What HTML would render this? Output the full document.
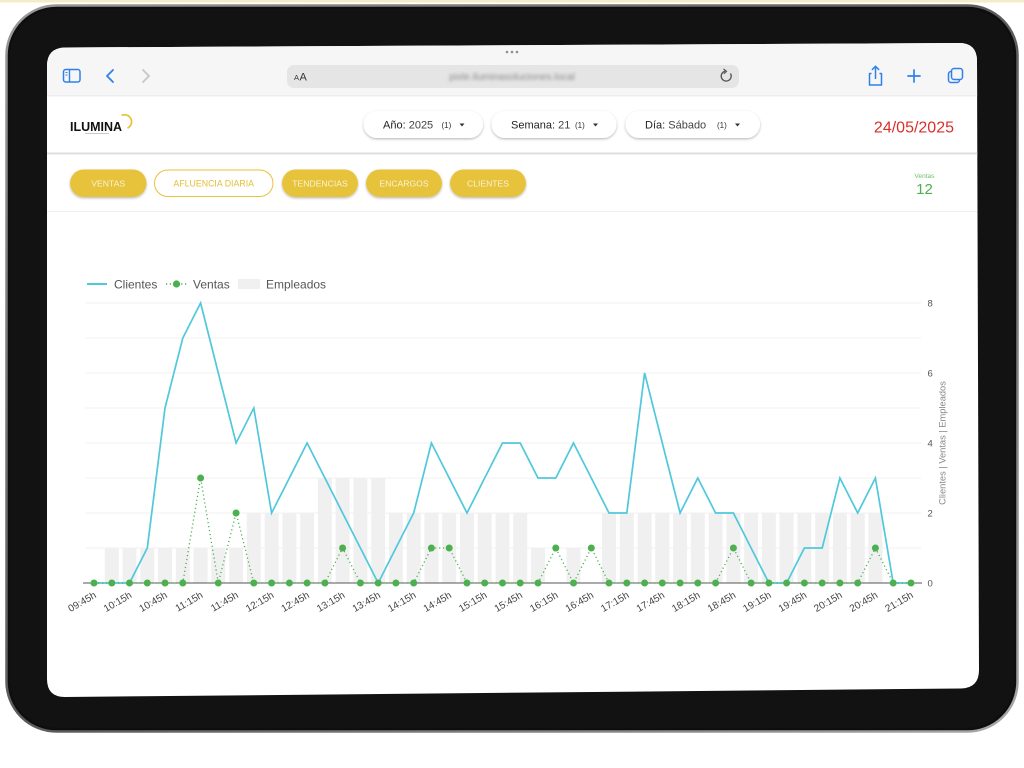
<!DOCTYPE html>
<html>
<head>
<meta charset="utf-8">
<style>
html,body{margin:0;padding:0;background:#fff;width:1024px;height:768px;overflow:hidden;}
svg{display:block;font-family:"Liberation Sans",Arial,sans-serif;}
</style>
</head>
<body>
<svg width="1024" height="768" viewBox="0 0 1024 768" xmlns="http://www.w3.org/2000/svg">
<defs>
  <clipPath id="scr">
    <path d="M47,66 Q47,48 65,47.5 L959,43 Q977,43 977,61 L979,670 Q979,688 961,688.5 L65,697 Q47,697 47,679 Z"/>
  </clipPath>
  <filter id="sh" x="-10%" y="-30%" width="120%" height="180%">
    <feDropShadow dx="0" dy="1.2" stdDeviation="1.2" flood-color="#000" flood-opacity="0.28"/>
  </filter>
  <filter id="blur"><feGaussianBlur stdDeviation="1.6"/></filter>
  <linearGradient id="rim" x1="0" y1="0" x2="1" y2="1">
    <stop offset="0" stop-color="#9a9a9a"/>
    <stop offset="0.5" stop-color="#5a5a5a"/>
    <stop offset="1" stop-color="#a8a8a8"/>
  </linearGradient>
</defs>

<!-- background -->
<rect x="0" y="0" width="1024" height="768" fill="#ffffff"/>
<rect x="0" y="0" width="1024" height="2.5" fill="#f4ecc4"/>

<!-- iPad body -->
<rect x="6.5" y="5.5" width="1011" height="726" rx="50" ry="50" fill="#0e0e0e" stroke="url(#rim)" stroke-width="2.5"/>
<rect x="10" y="9" width="1004" height="719" rx="47" ry="47" fill="#121212"/>

<!-- screen -->
<g clip-path="url(#scr)">
  <rect x="40" y="40" width="945" height="660" fill="#ffffff"/>
  <!-- browser chrome -->
  <rect x="40" y="40" width="945" height="56" fill="#f6f6f6"/>
  <rect x="40" y="95.5" width="945" height="0.8" fill="#e4e4e4"/>
  <circle cx="507" cy="52" r="1.3" fill="#8e8e8e"/>
  <circle cx="512" cy="52" r="1.3" fill="#8e8e8e"/>
  <circle cx="517" cy="52" r="1.3" fill="#8e8e8e"/>
  <!-- sidebar icon -->
  <rect x="63.5" y="69.5" width="16.5" height="12.5" rx="2.2" fill="none" stroke="#2f80ed" stroke-width="1.5"/>
  <line x1="69.5" y1="69.5" x2="69.5" y2="82" stroke="#2f80ed" stroke-width="1.4"/>
  <line x1="65.5" y1="72.5" x2="67.5" y2="72.5" stroke="#2f80ed" stroke-width="1"/>
  <line x1="65.5" y1="75" x2="67.5" y2="75" stroke="#2f80ed" stroke-width="1"/>
  <!-- back/forward -->
  <path d="M113,70 L107,76 L113,82" fill="none" stroke="#2f80ed" stroke-width="1.8" stroke-linecap="round" stroke-linejoin="round"/>
  <path d="M143,70 L149,76 L143,82" fill="none" stroke="#c6c6c6" stroke-width="1.8" stroke-linecap="round" stroke-linejoin="round"/>
  <!-- address bar -->
  <rect x="287" y="65" width="452" height="23" rx="7" fill="#e5e5e5"/>
  <text x="294" y="80" font-size="7.5" fill="#333">A</text>
  <text x="299.5" y="80.5" font-size="11" fill="#333">A</text>
  <text x="512" y="80" font-size="10" fill="#8a8a8a" text-anchor="middle" filter="url(#blur)">pixle.iluminasoluciones.local</text>
  <path d="M730.5,73.5 A5,5 0 1 1 725,71.2" fill="none" stroke="#555" stroke-width="1.3"/>
  <path d="M723.5,69 L726.5,71.3 L723.8,73.8" fill="none" stroke="#555" stroke-width="1.2"/>
  <!-- share -->
  <path d="M871.5,73.5 L869.5,73.5 L869.5,85 L881.5,85 L881.5,73.5 L879.5,73.5" fill="none" stroke="#2f80ed" stroke-width="1.5" stroke-linejoin="round"/>
  <line x1="875.5" y1="66.5" x2="875.5" y2="79" stroke="#2f80ed" stroke-width="1.5"/>
  <path d="M872.3,69.5 L875.5,66.3 L878.7,69.5" fill="none" stroke="#2f80ed" stroke-width="1.5" stroke-linecap="round"/>
  <!-- plus -->
  <line x1="908" y1="76" x2="920" y2="76" stroke="#2f80ed" stroke-width="1.7" stroke-linecap="round"/>
  <line x1="914" y1="70" x2="914" y2="82" stroke="#2f80ed" stroke-width="1.7" stroke-linecap="round"/>
  <!-- tabs -->
  <rect x="948.5" y="71.5" width="11" height="11" rx="2.5" fill="none" stroke="#2f80ed" stroke-width="1.5"/>
  <rect x="951.5" y="68.5" width="11" height="11" rx="2.5" fill="#f6f6f6" stroke="#2f80ed" stroke-width="1.5"/>

  <!-- page header -->
  <text x="70" y="131" font-size="12.5" font-weight="bold" fill="#111">ILUMINA</text>
  <path d="M121.6,115.4 A7,7 0 1 1 127.5,128.1" fill="none" stroke="#e7c23b" stroke-width="1.8"/>
  <rect x="85" y="133" width="24" height="1" fill="#c8c8c8"/>

  <g filter="url(#sh)">
    <rect x="363.5" y="111" width="119.5" height="27" rx="13.5" fill="#fff"/>
    <rect x="491.5" y="111" width="125" height="27" rx="13.5" fill="#fff"/>
    <rect x="625.5" y="111" width="134.5" height="27" rx="13.5" fill="#fff"/>
  </g>
  <text x="383" y="128.5" font-size="11" fill="#222">Año<tspan fill="#222">:</tspan> <tspan fill="#444">2025</tspan></text>
  <text x="441.5" y="128" font-size="8" fill="#333">(1)</text>
  <path d="M459.5,123.5 L464.5,123.5 L462,126.5 Z" fill="#333"/>
  <text x="511" y="128.5" font-size="11" fill="#222">Semana<tspan>:</tspan> <tspan fill="#444">21</tspan></text>
  <text x="575" y="128" font-size="8" fill="#333">(1)</text>
  <path d="M593,123.5 L598,123.5 L595.5,126.5 Z" fill="#333"/>
  <text x="645" y="128.5" font-size="11" fill="#222">Día<tspan>:</tspan> <tspan fill="#444">Sábado</tspan></text>
  <text x="717" y="128" font-size="8" fill="#333">(1)</text>
  <path d="M735,123.5 L740,123.5 L737.5,126.5 Z" fill="#333"/>

  <text x="954" y="132.5" font-size="16" fill="#d7302c" text-anchor="end">24/05/2025</text>

  <rect x="40" y="152.5" width="945" height="1.5" fill="#dedede"/>
  <rect x="40" y="154" width="945" height="1" fill="#f0f0f0"/>

  <!-- nav buttons -->
  <g filter="url(#sh)">
    <rect x="70" y="169.5" width="76.5" height="27.5" rx="13.75" fill="#e7c23b"/>
    <rect x="282" y="169.5" width="76" height="27.5" rx="13.75" fill="#e7c23b"/>
    <rect x="366" y="169.5" width="76" height="27.5" rx="13.75" fill="#e7c23b"/>
    <rect x="450" y="169.5" width="76" height="27.5" rx="13.75" fill="#e7c23b"/>
  </g>
  <rect x="154.5" y="170" width="118.5" height="26.5" rx="13.25" fill="#fff" stroke="#e7c23b" stroke-width="1"/>
  <text x="108.2" y="186.5" font-size="8.6" fill="#fbf3d6" text-anchor="middle">VENTAS</text>
  <text x="213.7" y="186.5" font-size="8.8" fill="#e4be35" text-anchor="middle">AFLUENCIA DIARIA</text>
  <text x="320" y="186.5" font-size="8.6" fill="#fbf3d6" text-anchor="middle">TENDENCIAS</text>
  <text x="404" y="186.5" font-size="8.6" fill="#fbf3d6" text-anchor="middle">ENCARGOS</text>
  <text x="488" y="186.5" font-size="8.6" fill="#fbf3d6" text-anchor="middle">CLIENTES</text>

  <text x="924.5" y="178" font-size="6.5" fill="#6cbf6c" text-anchor="middle">Ventas</text>
  <text x="924.5" y="194" font-size="15" fill="#4caf50" text-anchor="middle">12</text>

  <rect x="40" y="211" width="945" height="1" fill="#eeeeee"/>

  <!-- legend -->
  <line x1="87" y1="284" x2="107" y2="284" stroke="#50c8dc" stroke-width="2"/>
  <text x="114" y="288.3" font-size="12" fill="#555">Clientes</text>
  <line x1="166" y1="284" x2="187" y2="284" stroke="#4caf50" stroke-width="1.4" stroke-dasharray="1.2 2.6"/>
  <circle cx="176.5" cy="284" r="3.6" fill="#4caf50"/>
  <text x="193" y="288.3" font-size="12" fill="#555">Ventas</text>
  <rect x="238" y="279" width="22" height="10" fill="#f0f0f0"/>
  <text x="266" y="288.3" font-size="12" fill="#555">Empleados</text>

  <!-- gridlines -->
  <g stroke="#f1f1f1" stroke-width="1">
    <line x1="85" y1="303" x2="921" y2="303"/>
    <line x1="85" y1="338" x2="921" y2="338"/>
    <line x1="85" y1="373" x2="921" y2="373"/>
    <line x1="85" y1="408" x2="921" y2="408"/>
    <line x1="85" y1="443" x2="921" y2="443"/>
    <line x1="85" y1="478" x2="921" y2="478"/>
    <line x1="85" y1="513" x2="921" y2="513"/>
    <line x1="85" y1="548" x2="921" y2="548"/>
  </g>

  <!-- Empleados bars -->
  <g fill="#f0f0f0">
    <rect x="104.8" y="548" width="14" height="35"/>
    <rect x="122.5" y="548" width="14" height="35"/>
    <rect x="140.3" y="548" width="14" height="35"/>
    <rect x="158" y="548" width="14" height="35"/>
    <rect x="175.8" y="548" width="14" height="35"/>
    <rect x="193.6" y="548" width="14" height="35"/>
    <rect x="211.3" y="548" width="14" height="35"/>
    <rect x="229.1" y="548" width="14" height="35"/>
    <rect x="246.8" y="513" width="14" height="70"/>
    <rect x="264.6" y="513" width="14" height="70"/>
    <rect x="282.4" y="513" width="14" height="70"/>
    <rect x="300.1" y="513" width="14" height="70"/>
    <rect x="317.9" y="478" width="14" height="105"/>
    <rect x="335.6" y="478" width="14" height="105"/>
    <rect x="353.4" y="478" width="14" height="105"/>
    <rect x="371.2" y="478" width="14" height="105"/>
    <rect x="388.9" y="513" width="14" height="70"/>
    <rect x="406.7" y="513" width="14" height="70"/>
    <rect x="424.4" y="513" width="14" height="70"/>
    <rect x="442.2" y="513" width="14" height="70"/>
    <rect x="460" y="513" width="14" height="70"/>
    <rect x="477.7" y="513" width="14" height="70"/>
    <rect x="495.5" y="513" width="14" height="70"/>
    <rect x="513.2" y="513" width="14" height="70"/>
    <rect x="531" y="548" width="14" height="35"/>
    <rect x="566.5" y="548" width="14" height="35"/>
    <rect x="602" y="513" width="14" height="70"/>
    <rect x="619.8" y="513" width="14" height="70"/>
    <rect x="637.6" y="513" width="14" height="70"/>
    <rect x="655.3" y="513" width="14" height="70"/>
    <rect x="673.1" y="513" width="14" height="70"/>
    <rect x="690.8" y="513" width="14" height="70"/>
    <rect x="708.6" y="513" width="14" height="70"/>
    <rect x="726.4" y="513" width="14" height="70"/>
    <rect x="744.1" y="513" width="14" height="70"/>
    <rect x="761.9" y="513" width="14" height="70"/>
    <rect x="779.6" y="513" width="14" height="70"/>
    <rect x="797.4" y="513" width="14" height="70"/>
    <rect x="815.2" y="513" width="14" height="70"/>
    <rect x="832.9" y="513" width="14" height="70"/>
    <rect x="850.7" y="513" width="14" height="70"/>
    <rect x="868.4" y="513" width="14" height="70"/>
  </g>

  <!-- zero axis -->
  <line x1="83" y1="583" x2="922" y2="583" stroke="#555" stroke-width="1.1"/>

  <!-- Clientes line -->
  <polyline fill="none" stroke="#50c8dc" stroke-width="1.7" stroke-linejoin="miter" points="94,583 111.8,583 129.5,583 147.3,548 165,408 182.8,338 200.6,303 218.3,373 236.1,443 253.8,408 271.6,513 289.4,478 307.1,443 324.9,478 342.6,513 360.4,548 378.2,583 395.9,548 413.7,513 431.4,443 449.2,478 467,513 484.7,478 502.5,443 520.2,443 538,478 555.8,478 573.5,443 591.3,478 609,513 626.8,513 644.6,373 662.3,443 680.1,513 697.8,478 715.6,513 733.4,513 751.1,548 768.9,583 786.6,583 804.4,548 822.2,548 839.9,478 857.7,513 875.4,478 893.2,583 911,583"/>

  <!-- Ventas dotted line -->
  <polyline fill="none" stroke="#4caf50" stroke-width="1.3" stroke-dasharray="1.2 2.8" points="94,583 111.8,583 129.5,583 147.3,583 165,583 182.8,583 200.6,478 218.3,583 236.1,513 253.8,583 271.6,583 289.4,583 307.1,583 324.9,583 342.6,548 360.4,583 378.2,583 395.9,583 413.7,583 431.4,548 449.2,548 467,583 484.7,583 502.5,583 520.2,583 538,583 555.8,548 573.5,583 591.3,548 609,583 626.8,583 644.6,583 662.3,583 680.1,583 697.8,583 715.6,583 733.4,548 751.1,583 768.9,583 786.6,583 804.4,583 822.2,583 839.9,583 857.7,583 875.4,548 893.2,583 911,583"/>

  <!-- Ventas dots -->
  <g fill="#4caf50">
    <circle cx="94" cy="583" r="3.5"/>
    <circle cx="111.8" cy="583" r="3.5"/>
    <circle cx="129.5" cy="583" r="3.5"/>
    <circle cx="147.3" cy="583" r="3.5"/>
    <circle cx="165" cy="583" r="3.5"/>
    <circle cx="182.8" cy="583" r="3.5"/>
    <circle cx="200.6" cy="478" r="3.5"/>
    <circle cx="218.3" cy="583" r="3.5"/>
    <circle cx="236.1" cy="513" r="3.5"/>
    <circle cx="253.8" cy="583" r="3.5"/>
    <circle cx="271.6" cy="583" r="3.5"/>
    <circle cx="289.4" cy="583" r="3.5"/>
    <circle cx="307.1" cy="583" r="3.5"/>
    <circle cx="324.9" cy="583" r="3.5"/>
    <circle cx="342.6" cy="548" r="3.5"/>
    <circle cx="360.4" cy="583" r="3.5"/>
    <circle cx="378.2" cy="583" r="3.5"/>
    <circle cx="395.9" cy="583" r="3.5"/>
    <circle cx="413.7" cy="583" r="3.5"/>
    <circle cx="431.4" cy="548" r="3.5"/>
    <circle cx="449.2" cy="548" r="3.5"/>
    <circle cx="467" cy="583" r="3.5"/>
    <circle cx="484.7" cy="583" r="3.5"/>
    <circle cx="502.5" cy="583" r="3.5"/>
    <circle cx="520.2" cy="583" r="3.5"/>
    <circle cx="538" cy="583" r="3.5"/>
    <circle cx="555.8" cy="548" r="3.5"/>
    <circle cx="573.5" cy="583" r="3.5"/>
    <circle cx="591.3" cy="548" r="3.5"/>
    <circle cx="609" cy="583" r="3.5"/>
    <circle cx="626.8" cy="583" r="3.5"/>
    <circle cx="644.6" cy="583" r="3.5"/>
    <circle cx="662.3" cy="583" r="3.5"/>
    <circle cx="680.1" cy="583" r="3.5"/>
    <circle cx="697.8" cy="583" r="3.5"/>
    <circle cx="715.6" cy="583" r="3.5"/>
    <circle cx="733.4" cy="548" r="3.5"/>
    <circle cx="751.1" cy="583" r="3.5"/>
    <circle cx="768.9" cy="583" r="3.5"/>
    <circle cx="786.6" cy="583" r="3.5"/>
    <circle cx="804.4" cy="583" r="3.5"/>
    <circle cx="822.2" cy="583" r="3.5"/>
    <circle cx="839.9" cy="583" r="3.5"/>
    <circle cx="857.7" cy="583" r="3.5"/>
    <circle cx="875.4" cy="548" r="3.5"/>
    <circle cx="893.2" cy="583" r="3.5"/>
    <circle cx="911" cy="583" r="3.5"/>
  </g>

  <!-- right axis -->
  <g font-size="9.5" fill="#555">
    <text x="927.5" y="306.5">8</text>
    <text x="927.5" y="376.5">6</text>
    <text x="927.5" y="446.5">4</text>
    <text x="927.5" y="516.5">2</text>
    <text x="927.5" y="586.5">0</text>
  </g>
  <text transform="translate(945.5,443) rotate(-90)" font-size="9.3" fill="#888" text-anchor="middle">Clientes | Ventas | Empleados</text>

  <!-- x labels -->
  <g font-size="10" fill="#444" text-anchor="end">
    <text transform="translate(97,597) rotate(-30)">09:45h</text>
    <text transform="translate(132.5,597) rotate(-30)">10:15h</text>
    <text transform="translate(168,597) rotate(-30)">10:45h</text>
    <text transform="translate(203.6,597) rotate(-30)">11:15h</text>
    <text transform="translate(239.1,597) rotate(-30)">11:45h</text>
    <text transform="translate(274.6,597) rotate(-30)">12:15h</text>
    <text transform="translate(310.1,597) rotate(-30)">12:45h</text>
    <text transform="translate(345.6,597) rotate(-30)">13:15h</text>
    <text transform="translate(381.2,597) rotate(-30)">13:45h</text>
    <text transform="translate(416.7,597) rotate(-30)">14:15h</text>
    <text transform="translate(452.2,597) rotate(-30)">14:45h</text>
    <text transform="translate(487.7,597) rotate(-30)">15:15h</text>
    <text transform="translate(523.2,597) rotate(-30)">15:45h</text>
    <text transform="translate(558.8,597) rotate(-30)">16:15h</text>
    <text transform="translate(594.3,597) rotate(-30)">16:45h</text>
    <text transform="translate(629.8,597) rotate(-30)">17:15h</text>
    <text transform="translate(665.3,597) rotate(-30)">17:45h</text>
    <text transform="translate(700.8,597) rotate(-30)">18:15h</text>
    <text transform="translate(736.4,597) rotate(-30)">18:45h</text>
    <text transform="translate(771.9,597) rotate(-30)">19:15h</text>
    <text transform="translate(807.4,597) rotate(-30)">19:45h</text>
    <text transform="translate(842.9,597) rotate(-30)">20:15h</text>
    <text transform="translate(878.4,597) rotate(-30)">20:45h</text>
    <text transform="translate(914,597) rotate(-30)">21:15h</text>
  </g>
</g>
</svg>
</body>
</html>
